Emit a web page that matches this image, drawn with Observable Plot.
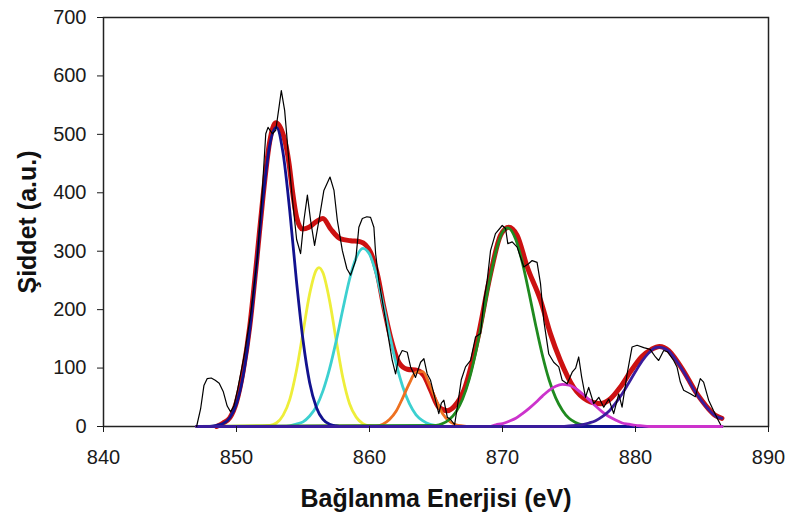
<!DOCTYPE html>
<html><head><meta charset="utf-8">
<script src="https://cdn.jsdelivr.net/npm/d3@7"></script>
<script src="https://cdn.jsdelivr.net/npm/@observablehq/plot@0.6"></script>
<style>body{margin:0;background:#fff}</style>
</head><body><div id="chart"></div>
<script>
const xTicks = [840, 850, 860, 870, 880, 890];
const yTicks = [0, 100, 200, 300, 400, 500, 600, 700];
const xTitle = "Bağlanma Enerjisi (eV)";
const yTitle = "Şiddet (a.u.)";

// raw spectrum (black)
const rawE = [847.0, 847.3, 847.55, 847.8, 848.1, 848.4, 848.7, 849.0, 849.3, 849.56,
  849.8, 850.07, 850.56, 851.07, 851.57, 851.94, 852.2, 852.37, 852.7, 852.95,
  853.2, 853.37, 853.62, 853.77, 853.95, 854.2, 854.52, 854.82, 855.07, 855.33,
  855.57, 855.87, 856.2, 856.57, 857.03, 857.33, 857.58, 857.96, 858.3, 858.58,
  858.96, 859.2, 859.46, 859.8, 860.08, 860.33, 860.46, 860.7, 860.96, 861.21,
  861.46, 861.71, 861.96, 862.21, 862.46, 862.84, 863.09, 863.46, 863.84, 864.09,
  864.34, 864.59, 864.84, 865.21, 865.4, 865.59, 865.85, 866.1, 866.4, 866.6,
  866.9, 867.22, 867.6, 867.97, 868.35, 868.6, 868.85, 869.1, 869.47, 869.98,
  870.23, 870.4, 870.73, 871.1, 871.35, 871.6, 871.98, 872.23, 872.6, 872.86,
  873.1, 873.48, 873.85, 874.23, 874.49, 874.86, 875.24, 875.5, 875.73, 875.95,
  876.24, 876.48, 876.86, 877.24, 877.61, 877.99, 878.36, 878.74, 878.99, 879.37,
  879.74, 880.12, 880.62, 881.1, 881.5, 881.74, 882.12, 882.4, 882.87, 883.12,
  883.37, 883.62, 884.12, 884.5, 884.87, 885.12, 885.5, 885.87, 886.24, 886.4];
const rawI = [0, 30, 70, 82, 83, 79, 74, 60, 35, 25,
  35, 62, 119, 193, 290, 404, 501, 512, 501, 507,
  547, 575, 541, 501, 450, 390, 320, 296, 353, 396,
  353, 310, 353, 404, 427, 404, 353, 301, 270, 259,
  284, 341, 356, 359, 358, 341, 296, 250, 216, 182,
  147, 113, 90, 119, 130, 127, 102, 84, 110, 116,
  90, 79, 56, 22, 40, 45, 16, 12, 3, 33,
  80, 102, 113, 153, 159, 216, 250, 301, 330, 344,
  339, 313, 316, 307, 290, 273, 279, 284, 281, 244,
  182, 124, 110, 102, 79, 73, 93, 100, 119, 85,
  50, 67, 39, 50, 33, 47, 22, 56, 33, 90,
  136, 139, 135, 132, 119, 113, 130, 128, 113, 102,
  76, 62, 56, 51, 82, 76, 45, 27, 10, 3];

// fitted envelope (red)
const envE = [848.5, 849, 849.5, 850, 850.5, 851, 851.5, 852, 852.5, 852.95,
  853.57, 853.95, 854.2, 854.52, 854.95, 855.45, 856.08, 856.5, 857.08, 857.83,
  858.58, 859.33, 860.08, 860.59, 861.08, 861.58, 862.2, 862.84, 863.59, 864.09,
  864.6, 865.21, 865.85, 866.4, 867.1, 868.1, 869.1, 869.85, 870.47, 871.1,
  871.86, 872.86, 873.6, 874.35, 875.35, 876.36, 877.36, 878.1, 878.85, 879.6,
  880.5, 881.2, 881.8, 882.5, 883, 883.5, 884, 884.5, 885, 885.5, 886, 886.5];
const envI = [0, 6, 15, 42, 95, 172, 280, 395, 488, 520,
  495, 450, 404, 358, 338, 341, 352, 356, 338, 321,
  318, 316, 298, 261, 204, 153, 110, 98, 96, 87,
  62, 33, 27, 35, 62, 147, 261, 327, 341, 327,
  273, 216, 159, 113, 67, 45, 39, 47, 67, 93,
  120, 132, 137, 130, 116, 99, 80, 60, 44, 30, 19, 14];

// fitted components
const yelE = [847, 852.5, 853, 853.5, 854, 854.5, 855, 855.5, 856, 856.2, 856.5, 857, 857.5, 858, 858.5, 859, 859.5, 860, 860.5, 886.5];
const yelI = [0, 2, 6, 19, 46, 95, 161, 227, 268, 272, 263, 215, 147, 83, 39, 16, 5, 1, 0, 0];
const cyaE = [847, 853.5, 854, 854.5, 855, 855.5, 856, 856.5, 857, 857.5, 858, 858.5, 859, 859.5, 860, 860.5, 861, 861.5, 862, 862.5, 863, 863.5, 864, 864.5, 865, 865.5, 866, 886.5];
const cyaI = [0, 0, 1, 4, 8, 18, 34, 61, 99, 147, 201, 252, 289, 305, 295, 261, 212, 158, 108, 68, 39, 20, 10, 4, 2, 0, 0, 0];
const oraE = [847, 860.5, 861, 861.5, 862, 862.5, 863, 863.5, 864, 864.5, 865, 865.5, 866, 866.5, 867, 867.5, 886.5];
const oraI = [0, 1, 4, 12, 26, 49, 74, 93, 94, 72, 45, 22, 9, 3, 1, 0, 0];
const greE = [847, 865, 865.5, 866, 866.5, 867, 867.5, 868, 868.5, 869, 869.5, 870, 870.4, 871, 871.5, 872, 872.5, 873, 873.5, 874, 874.5, 875, 875.5, 876, 876.5, 877, 886.5];
const greI = [0, 2, 5, 12, 25, 47, 81, 128, 185, 246, 299, 333, 340, 320, 280, 228, 173, 122, 80, 49, 28, 14, 7, 3, 1, 0, 0];
const p1E = [847, 848, 848.5, 849, 849.5, 850, 850.5, 851, 851.5, 852, 852.5, 853, 853.5, 854, 854.5, 855, 855.5, 856, 856.5, 857, 857.5, 858, 886.5];
const p1I = [0, 0, 2, 5, 15, 39, 87, 166, 275, 392, 482, 512, 468, 370, 251, 148, 75, 33, 12, 4, 1, 0, 0];
const magE = [847, 869, 869.5, 870, 870.5, 871, 871.5, 872, 872.5, 873, 873.5, 874, 874.5, 875, 875.5, 876, 876.5, 877, 877.5, 878, 878.5, 879, 879.5, 880, 880.5, 881, 886.5];
const magI = [0, 0, 3, 5, 9, 14, 22, 31, 41, 52, 62, 69, 72, 71, 65, 56, 46, 35, 25, 17, 11, 6, 4, 2, 1, 0, 0];
const lastE = [847, 874.5, 875, 875.5, 876, 876.5, 877, 877.5, 878, 878.5, 879, 879.5, 880, 880.5, 881, 881.5, 881.8, 882, 882.5, 883, 883.5, 884, 884.5, 885, 885.5, 886, 886.5];
const lastI = [0, 0, 1, 2, 3, 6, 10, 17, 26, 40, 56, 75, 94, 112, 126, 135, 136, 135, 129, 115, 98, 79, 59, 43, 29, 18, 14];

const pts = (E, I) => E.map((e, i) => ({e, v: I[i]}));
const comp = (E, I, color) => Plot.line(pts(E, I), {x: "e", y: "v", stroke: color, strokeWidth: 2.8, curve: "monotone-x"});

const font = "Liberation Sans, Arial, Helvetica, sans-serif";
const chart = Plot.plot({
  width: 788, height: 515,
  marginLeft: 103, marginRight: 20, marginTop: 17, marginBottom: 89,
  style: {fontFamily: font, fontSize: "20px", background: "#fff", color: "#1a1a1a"},
  x: {domain: [840, 890]},
  y: {domain: [0, 700]},
  marks: [
    Plot.frame({stroke: "#222", strokeWidth: 1.5}),
    Plot.line(pts(envE, envI), {x: "e", y: "v", stroke: "#cc1111", strokeWidth: 5, curve: "monotone-x", strokeLinejoin: "round"}),
    comp(yelE, yelI, "#eeee3a"),
    comp(cyaE, cyaI, "#3cd0d0"),
    comp(oraE, oraI, "#ee7020"),
    comp(greE, greI, "#1f8a1f"),
    comp(p1E, p1I, "#12128f"),
    comp(magE, magI, "#cc33cc"),
    comp(lastE, lastI, "#3a1c9c"),
    Plot.line(pts(rawE, rawI), {x: "e", y: "v", stroke: "#000", strokeWidth: 1.2}),
    Plot.axisX({ticks: xTicks, tickSize: 6, tickPadding: 17, label: null, fontSize: 20, tickFormat: d => String(d)}),
    Plot.axisY({ticks: yTicks, tickSize: 6, tickPadding: 11, label: null, fontSize: 20, tickFormat: d => String(d)}),
    Plot.text([xTitle], {text: d => d, frameAnchor: "bottom", dy: 80, fontSize: 25, fontWeight: "bold", fill: "#111"}),
    Plot.text([yTitle], {text: d => d, frameAnchor: "left", textAnchor: "middle", dx: -76, rotate: -90, fontSize: 25, fontWeight: "bold", fill: "#111"})
  ]
});
document.getElementById("chart").appendChild(chart);
</script>
</body></html>
